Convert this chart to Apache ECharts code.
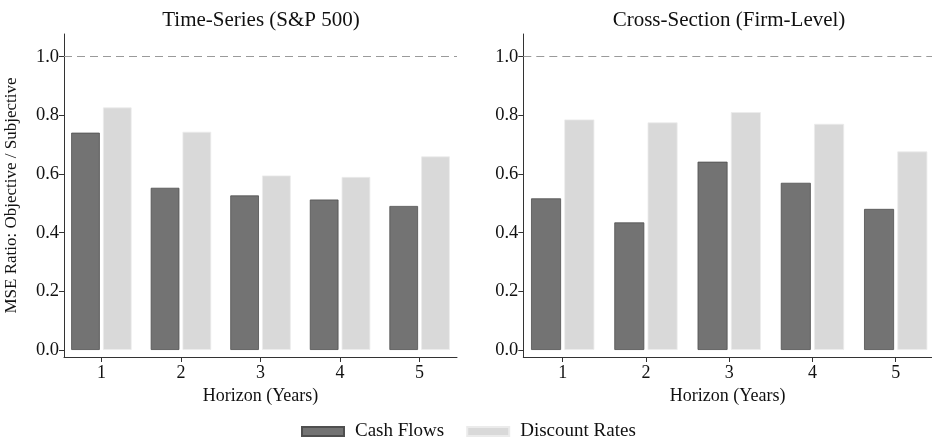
<!DOCTYPE html>
<html>
<head>
<meta charset="utf-8">
<script src="https://cdn.jsdelivr.net/npm/echarts@6/dist/echarts.min.js"></script>
<style>html,body{margin:0;padding:0;background:#fff}#c{width:932px;height:448px}</style>
</head>
<body>
<div id="c"></div>
<script>
var horizons = [1, 2, 3, 4, 5];
var yTicks = [0, 0.2, 0.4, 0.6, 0.8, 1.0];
var panelTitles = ['Time-Series (S&P 500)', 'Cross-Section (Firm-Level)'];
var seriesNames = ['Cash Flows', 'Discount Rates'];
var tsCashFlows = [0.741, 0.553, 0.527, 0.513, 0.491];
var tsDiscountRates = [0.827, 0.744, 0.595, 0.590, 0.660];
var csCashFlows = [0.517, 0.435, 0.642, 0.570, 0.481];
var csDiscountRates = [0.786, 0.776, 0.811, 0.771, 0.677];
var referenceLine = 1.0;

var FONT = '"Liberation Serif", "DejaVu Serif", serif';
var AXIS = '#333333';
var TXT = '#111111';

function pairs(vals) { return horizons.map(function (h, i) { return [h, vals[i]]; }); }

function xAx(idx, min, max) {
  return {
    type: 'value', gridIndex: idx, min: min, max: max,
    name: 'Horizon (Years)', nameLocation: 'middle', nameGap: 26,
    nameTextStyle: { fontFamily: FONT, fontSize: 18, color: TXT },
    axisLine: { onZero: false, show: true, lineStyle: { color: AXIS, width: 1 } },
    axisTick: { show: true, length: 5, customValues: horizons, lineStyle: { color: AXIS } },
    axisLabel: { customValues: horizons, fontFamily: FONT, fontSize: 18, color: TXT, margin: 7 },
    splitLine: { show: false }
  };
}
function yAx(idx, withName) {
  return {
    type: 'value', gridIndex: idx, min: -0.024, max: 1.0775,
    name: withName ? 'MSE Ratio: Objective / Subjective' : '',
    nameLocation: 'middle', nameGap: 44, nameRotate: 90,
    nameTextStyle: { fontFamily: FONT, fontSize: 17, color: TXT },
    axisLine: { show: true, lineStyle: { color: AXIS, width: 1 } },
    axisTick: { show: true, length: 5, customValues: yTicks, lineStyle: { color: AXIS } },
    axisLabel: { customValues: yTicks, fontFamily: FONT, fontSize: 18.5, color: TXT, margin: 5,
      formatter: function (v) { return v.toFixed(1); } },
    splitLine: { show: false }
  };
}
function barSeries(name, vals, idx, dark) {
  return {
    name: name, type: 'bar', xAxisIndex: idx, yAxisIndex: idx,
    data: pairs(vals), barWidth: '36%', barGap: '11%',
    itemStyle: dark ? { color: '#737373', borderColor: '#4f4f4f', borderWidth: 0.8 }
                    : { color: '#d9d9d9', borderColor: '#ebebeb', borderWidth: 0.8 },
    emphasis: { disabled: true }, silent: true
  };
}
function refLine(idx) {
  return {
    type: 'line', xAxisIndex: idx, yAxisIndex: idx, data: [], silent: true,
    markLine: {
      symbol: 'none', silent: true, label: { show: false },
      lineStyle: { color: '#9a9a9a', type: [8, 5], width: 1 },
      data: [{ yAxis: referenceLine }]
    }
  };
}

var chart = echarts.init(document.getElementById('c'), null, { renderer: 'canvas' });
chart.setOption({
  animation: false,
  backgroundColor: '#ffffff',
  title: [
    { text: panelTitles[0], left: 256, top: 5, textAlign: 'center',
      textStyle: { fontFamily: FONT, fontSize: 21, fontWeight: 'normal', color: TXT } },
    { text: panelTitles[1], left: 724, top: 5, textAlign: 'center',
      textStyle: { fontFamily: FONT, fontSize: 21, fontWeight: 'normal', color: TXT } }
  ],
  legend: {
    bottom: 2, left: 296, itemWidth: 42, itemHeight: 9, itemGap: 22,
    textStyle: { fontFamily: FONT, fontSize: 19, color: TXT, padding: [0, 0, 0, 6] },
    data: seriesNames.map(function (n) { return { name: n, icon: 'rect' }; })
  },
  grid: [
    { left: 64, right: 932 - 457, top: 34, bottom: 448 - 357, containLabel: false },
    { left: 523.3, right: 0, top: 34, bottom: 448 - 357, containLabel: false }
  ],
  xAxis: [xAx(0, 0.53, 5.47), xAx(1, 0.527, 5.436)],
  yAxis: [yAx(0, true), yAx(1, false)],
  series: [
    barSeries(seriesNames[0], tsCashFlows, 0, true),
    barSeries(seriesNames[1], tsDiscountRates, 0, false),
    barSeries(seriesNames[0], csCashFlows, 1, true),
    barSeries(seriesNames[1], csDiscountRates, 1, false),
    refLine(0), refLine(1)
  ]
});
</script>
</body>
</html>
